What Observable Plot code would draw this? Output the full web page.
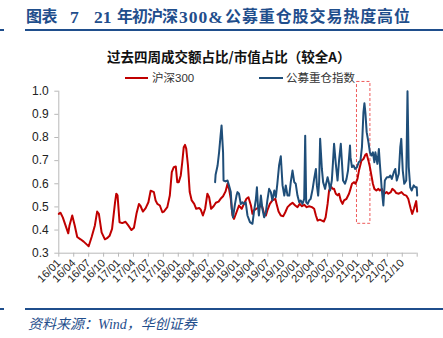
<!DOCTYPE html>
<html><head><meta charset="utf-8">
<script src="https://cdn.jsdelivr.net/npm/d3@7"></script>
<script src="https://cdn.jsdelivr.net/npm/@observablehq/plot@0.6"></script>
<style>
body{margin:0;background:#fff;}
#wrap{position:relative;width:443px;height:338px;overflow:hidden;font-family:"Liberation Sans",Arial,"Noto Sans CJK SC",sans-serif;background:#fff;}
.abs{position:absolute;white-space:pre;}
.tt{position:absolute;top:7px;font-family:"Liberation Serif","Noto Sans CJK SC",serif;font-weight:bold;font-size:16px;line-height:20px;color:#1f4e8c;white-space:pre;}
.tl{font-size:17.5px;}
.hline{position:absolute;height:2px;background:#1f4e8c;}
#subtitle{left:107px;top:48px;font-family:"Noto Sans CJK SC",sans-serif;font-weight:bold;font-size:13.5px;line-height:16px;color:#111;}
.sw{position:absolute;height:2px;}
.lg{position:absolute;font-family:"Liberation Sans","Noto Sans CJK SC",sans-serif;font-size:11.5px;line-height:14px;color:#333;}
#caption{left:28px;top:317px;font-family:"Liberation Serif","Noto Sans CJK SC",serif;font-style:italic;font-size:14px;line-height:16px;color:#1f4e8c;}
#chart{position:absolute;left:0;top:80px;}
#chart svg g[aria-label="y-axis tick"], #chart svg g[aria-label="x-axis tick"]{stroke:#b8b8b8;}
</style></head>
<body>
<div id="wrap">
  <span class="tt" style="left:26px;letter-spacing:-0.5px;">图表</span>
  <span class="tt tl" style="left:70px;">7</span>
  <span class="tt tl" style="left:94px;">21</span>
  <span class="tt" style="left:117px;letter-spacing:-1px;">年初沪深</span>
  <span class="tt tl" style="left:179px;letter-spacing:1px;">300&amp;</span>
  <span class="tt" style="left:225px;letter-spacing:0.9px;">公募重仓股交易热度高位</span>
  <div class="hline" style="left:25px;top:29px;width:418px;"></div>
  <div class="hline" style="left:0;top:29px;width:4px;"></div>
  <div id="subtitle" class="abs">过去四周成交额占比/市值占比（较全A）</div>
  <div class="sw" style="left:125px;top:77px;width:23px;background:#c00000;"></div>
  <div class="lg" style="left:152px;top:71px;">沪深300</div>
  <div class="sw" style="left:259px;top:77px;width:24px;background:#1f4e79;"></div>
  <div class="lg" style="left:286px;top:71px;">公募重仓指数</div>
  <div id="chart"></div>
  <div class="hline" style="left:25px;top:308px;width:418px;"></div>
  <div class="hline" style="left:0;top:308px;width:4px;"></div>
  <div id="caption" class="abs">资料来源：Wind，华创证券</div>
</div>
<script>
// x tick labels (quarterly, months since 2016-01)
const xLabels = ["16/01","16/04","16/07","16/10","17/01","17/04","17/07","17/10","18/01","18/04","18/07","18/10","19/01","19/04","19/07","19/10","20/01","20/04","20/07","20/10","21/01","21/04","21/07","21/10"];
const yTicks = [0.3,0.4,0.5,0.6,0.7,0.8,0.9,1.0];

// 沪深300 — months since 2016-01 and values
const redMonth = [0,0.34,0.8,1.35,1.9,2.15,2.7,3.2,3.7,4.37,5.0,5.7,6.0,6.6,7.25,7.7,8.05,8.6,9.26,9.7,10.2,10.7,11.3,11.55,11.8,12.2,12.75,13.4,13.95,14.6,15.1,15.6,16.1,16.4,16.9,17.45,18.0,18.45,18.8,19.1,19.45,19.8,20.3,20.8,21.1,21.8,22.3,22.7,23.1,23.5,23.8,24.1,24.5,24.8,25.1,25.35,25.6,25.95,26.3,26.7,27.2,27.6,28.2,28.5,28.95,29.4,29.85,30.2,30.6,31.1,31.55,32.1,32.5,33.0,33.5,33.9,34.2,34.55,34.9,35.2,35.7,36.2,36.75,37.2,37.7,38.1,38.6,38.9,39.2,39.7,40.2,40.8,41.25,41.6,41.9,42.4,42.9,43.5,43.75,44.15,44.6,45.1,45.5,45.95,46.4,46.95,47.5,47.95,48.4,48.85,49.3,49.8,50.3,50.85,51.3,51.65,52.0,52.45,52.85,53.25,53.6,54.0,54.3,54.7,55.0,55.3,55.65,56.0,56.3,56.65,57.0,57.3,57.8,58.3,58.6,58.9,59.3,59.6,60.0,60.3,60.8,61.2,61.6,61.85,62.2,62.5,62.8,63.1,63.4,63.8,64.2,64.5,64.9,65.4,65.85,66.2,66.7,67.0,67.4,67.8,68.3,68.85,69.3,69.8,70.2,70.7,71.0,71.35,71.8,72.0];
const redValue = [0.47,0.475,0.455,0.42,0.386,0.42,0.463,0.42,0.37,0.36,0.35,0.336,0.33,0.37,0.42,0.48,0.47,0.39,0.36,0.365,0.375,0.405,0.52,0.557,0.55,0.434,0.43,0.436,0.42,0.40,0.41,0.47,0.513,0.505,0.48,0.495,0.52,0.57,0.567,0.564,0.528,0.513,0.506,0.477,0.48,0.499,0.549,0.65,0.672,0.675,0.607,0.607,0.636,0.693,0.758,0.768,0.752,0.679,0.564,0.528,0.513,0.492,0.495,0.489,0.463,0.492,0.557,0.542,0.492,0.503,0.518,0.523,0.535,0.546,0.567,0.6,0.578,0.535,0.463,0.448,0.477,0.506,0.492,0.513,0.535,0.542,0.506,0.47,0.485,0.492,0.499,0.506,0.47,0.463,0.485,0.513,0.528,0.535,0.513,0.48,0.463,0.46,0.477,0.499,0.509,0.518,0.506,0.499,0.513,0.503,0.509,0.499,0.503,0.499,0.492,0.463,0.441,0.445,0.441,0.437,0.455,0.513,0.571,0.588,0.578,0.578,0.557,0.55,0.557,0.528,0.513,0.528,0.535,0.557,0.578,0.6,0.607,0.6,0.621,0.657,0.70,0.707,0.726,0.729,0.70,0.672,0.636,0.6,0.578,0.571,0.578,0.571,0.578,0.557,0.564,0.557,0.564,0.578,0.571,0.56,0.557,0.564,0.553,0.549,0.535,0.492,0.47,0.492,0.525,0.48];

// 公募重仓指数 — months since 2016-01 and values
const blueMonth = [31.4,31.5,31.9,32.2,32.5,32.7,33.0,33.1,33.5,33.9,34.2,34.55,34.75,35.0,35.4,35.7,35.9,36.2,36.55,36.9,37.2,37.55,37.9,38.4,38.9,39.2,39.6,39.8,40.0,40.2,40.6,40.9,41.25,41.6,41.9,42.25,42.6,42.9,43.3,43.6,43.9,44.25,44.6,44.95,45.3,45.6,45.95,46.3,46.6,46.95,47.3,47.6,47.95,48.3,48.6,48.95,49.3,49.5,49.7,50.0,50.3,50.6,51.0,51.3,51.65,51.85,52.1,52.3,52.5,52.85,53.1,53.5,53.6,54.0,54.3,54.5,54.85,55.1,55.3,55.65,56.0,56.3,56.65,56.9,57.1,57.5,57.8,58.1,58.5,58.6,58.9,59.2,59.55,59.9,60.25,60.6,60.9,61.2,61.4,61.6,61.85,62.2,62.5,62.8,63.1,63.4,63.6,64.0,64.3,64.5,64.9,65.2,65.5,65.9,66.3,66.6,66.9,67.3,67.6,67.9,68.3,68.6,68.8,69.1,69.4,69.8,70.05,70.3,70.6,70.9,71.3,71.6,71.9,72.0];
const blueValue = [0.607,0.639,0.679,0.736,0.808,0.852,0.736,0.614,0.61,0.614,0.592,0.564,0.492,0.455,0.513,0.549,0.564,0.557,0.513,0.52,0.513,0.52,0.463,0.434,0.427,0.477,0.535,0.585,0.506,0.463,0.549,0.492,0.455,0.477,0.528,0.578,0.564,0.528,0.571,0.542,0.6,0.679,0.719,0.593,0.549,0.593,0.549,0.549,0.607,0.657,0.607,0.6,0.549,0.52,0.528,0.513,0.535,0.808,0.52,0.513,0.528,0.535,0.578,0.621,0.664,0.593,0.549,0.607,0.794,0.664,0.607,0.578,0.59,0.628,0.6,0.571,0.614,0.70,0.773,0.686,0.614,0.70,0.773,0.686,0.614,0.6,0.621,0.657,0.765,0.715,0.672,0.679,0.664,0.672,0.693,0.70,0.758,0.909,0.948,0.905,0.823,0.78,0.736,0.722,0.736,0.693,0.736,0.686,0.75,0.686,0.571,0.506,0.614,0.628,0.628,0.636,0.621,0.65,0.664,0.614,0.643,0.758,0.794,0.657,0.6,0.614,1.0,0.672,0.585,0.571,0.593,0.585,0.585,0.549];

// highlighted window (early 2021)
const highlightMonths = [59.9, 62.6];
const highlightValues = [0.427, 1.04];

const red = redMonth.map((m, i) => ({m, v: redValue[i]}));
const blue = blueMonth.map((m, i) => ({m, v: blueValue[i]}));
const highlight = [{x1: highlightMonths[0], x2: highlightMonths[1], y1: highlightValues[0], y2: highlightValues[1]}];
const xTicks = xLabels.map((d, i) => i * 3).concat([72]);

const plot = Plot.plot({
  width: 443, height: 225,
  marginTop: 10.7, marginBottom: 52.3, marginLeft: 58.3, marginRight: 26.3,
  style: {fontFamily: "'Liberation Sans', Arial, sans-serif", color: "#222", background: "transparent"},
  x: {type: "linear", domain: [0, 72]},
  y: {domain: [0.3, 1.0]},
  marks: [
    Plot.rect(highlight, {x1: "x1", x2: "x2", y1: "y1", y2: "y2", fill: "none", stroke: "#ee5a5a", strokeWidth: 1, strokeDasharray: "3,2"}),
    Plot.ruleX([0], {stroke: "#b8b8b8"}),
    Plot.ruleY([0.3], {stroke: "#b8b8b8"}),
    Plot.line(red, {x: "m", y: "v", stroke: "#c00000", strokeWidth: 2}),
    Plot.line(blue, {x: "m", y: "v", stroke: "#1f4e79", strokeWidth: 2}),
    Plot.axisY({ticks: yTicks, tickFormat: d => d.toFixed(1), tickSize: 4, tickPadding: 6, fontSize: 12}),
    Plot.axisX({ticks: xTicks, tickFormat: d => xLabels[Math.round(d / 3)] ?? "", tickRotate: -45, tickSize: 4, tickPadding: 4, fontSize: 11})
  ]
});
document.getElementById("chart").appendChild(plot);
</script>
</body></html>
